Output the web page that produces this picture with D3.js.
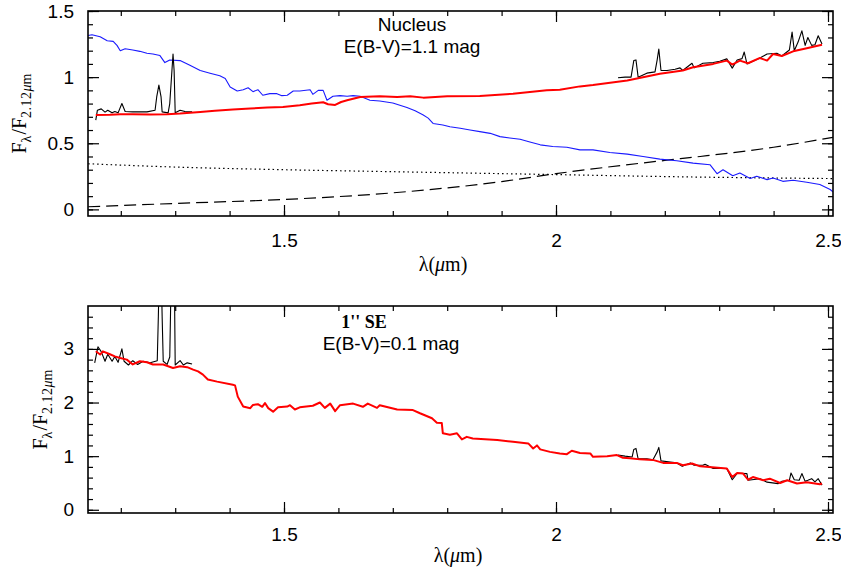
<!DOCTYPE html>
<html lang="en">
<head>
  <meta charset="UTF-8">
  <title>Nucleus and 1'' SE spectra</title>
  <script src="https://d3js.org/d3.v7.min.js"></script>
  <style>
    body { margin: 0; background: #fff; }
    .tick text { font-family: "Liberation Sans", Arial, sans-serif; font-size: 19px; fill: #000; }
    .tick line { stroke: #000; stroke-width: 1.2; }
  </style>
</head>
<body>
<div id="chart"></div>
<script>
// ---- data: [wavelength (micron), F_lambda / F_2.12um] ----

// Nucleus, observed spectrum (black), two pieces
var nucObsJ = [[1.154,0.675],[1.157,0.75],[1.164,0.76],[1.171,0.735],[1.176,0.75],[1.184,0.73],[1.189,0.74],
  [1.195,0.73],[1.202,0.80],[1.208,0.74],[1.222,0.737],[1.248,0.737],[1.263,0.75],[1.266,0.85],[1.270,0.94],
  [1.274,0.85],[1.276,0.737],[1.287,0.73],[1.290,0.80],[1.294,1.05],[1.296,1.175],[1.298,1.05],[1.300,0.73],
  [1.309,0.75],[1.318,0.74],[1.331,0.737]];
var nucObsK = [[2.114,0.995],[2.127,1.0],[2.138,1.0],[2.143,1.125],[2.147,1.13],[2.151,1.0],[2.167,1.03],
  [2.182,1.04],[2.186,1.13],[2.189,1.213],[2.193,1.05],[2.204,1.05],[2.219,1.06],[2.228,1.07],[2.233,1.05],
  [2.250,1.105],[2.254,1.07],[2.270,1.105],[2.289,1.11],[2.301,1.12],[2.314,1.138],[2.324,1.068],[2.333,1.13],
  [2.342,1.14],[2.346,1.19],[2.351,1.10],[2.362,1.12],[2.375,1.145],[2.388,1.175],[2.406,1.18],[2.415,1.16],
  [2.429,1.205],[2.434,1.34],[2.438,1.20],[2.445,1.265],[2.452,1.35],[2.458,1.24],[2.463,1.30],[2.470,1.24],
  [2.476,1.245],[2.482,1.313],[2.489,1.25]];

// Nucleus, model fit (red)
var nucFit = [[1.154,0.713],[1.180,0.715],[1.199,0.72],[1.222,0.72],[1.254,0.718],[1.285,0.72],[1.309,0.725],
  [1.346,0.737],[1.373,0.745],[1.406,0.755],[1.438,0.762],[1.469,0.77],[1.498,0.775],[1.529,0.788],[1.551,0.80],
  [1.572,0.81],[1.581,0.795],[1.594,0.79],[1.605,0.812],[1.616,0.825],[1.640,0.85],[1.676,0.855],[1.708,0.85],
  [1.732,0.855],[1.756,0.845],[1.800,0.855],[1.860,0.857],[1.921,0.875],[1.983,0.90],[2.007,0.905],[2.044,0.93],
  [2.068,0.94],[2.131,0.975],[2.191,1.025],[2.233,1.05],[2.252,1.075],[2.289,1.10],[2.314,1.125],[2.324,1.095],
  [2.338,1.125],[2.353,1.105],[2.375,1.145],[2.388,1.125],[2.399,1.175],[2.415,1.16],[2.436,1.195],[2.461,1.218],
  [2.489,1.245]];

// Nucleus, stellar template (blue)
var nucStar = [[1.140,1.315],[1.147,1.32],[1.162,1.305],[1.175,1.275],[1.186,1.27],[1.193,1.24],[1.199,1.20],
  [1.208,1.215],[1.222,1.205],[1.235,1.195],[1.248,1.18],[1.259,1.175],[1.272,1.163],[1.281,1.11],[1.290,1.13],
  [1.309,1.125],[1.327,1.09],[1.346,1.05],[1.364,1.03],[1.382,1.01],[1.392,0.99],[1.401,0.925],[1.414,0.895],
  [1.425,0.905],[1.434,0.92],[1.443,0.89],[1.452,0.905],[1.461,0.863],[1.474,0.875],[1.487,0.875],[1.496,0.86],
  [1.506,0.863],[1.517,0.895],[1.529,0.895],[1.548,0.905],[1.553,0.87],[1.563,0.90],[1.572,0.90],[1.579,0.825],
  [1.590,0.855],[1.603,0.86],[1.616,0.855],[1.627,0.86],[1.640,0.855],[1.658,0.825],[1.676,0.82],[1.700,0.805],
  [1.726,0.77],[1.741,0.745],[1.756,0.713],[1.765,0.69],[1.774,0.65],[1.792,0.638],[1.805,0.625],[1.824,0.613],
  [1.842,0.60],[1.860,0.588],[1.879,0.575],[1.897,0.55],[1.915,0.54],[1.934,0.53],[1.952,0.51],[1.971,0.488],
  [1.994,0.475],[2.020,0.47],[2.044,0.45],[2.068,0.45],[2.099,0.43],[2.131,0.418],[2.160,0.40],[2.191,0.38],
  [2.222,0.368],[2.252,0.35],[2.283,0.338],[2.296,0.27],[2.307,0.30],[2.325,0.255],[2.338,0.275],[2.357,0.233],
  [2.369,0.25],[2.388,0.225],[2.399,0.238],[2.417,0.212],[2.436,0.22],[2.461,0.205],[2.485,0.188],[2.504,0.15],
  [2.509,0.133]];

// Nucleus, power law (dotted) and hot dust (dashed)
var nucPowerLaw = [[1.140,0.345],[1.30,0.32],[1.50,0.30],[1.70,0.285],[2.00,0.263],[2.25,0.245],[2.509,0.233]];
var nucDust = [[1.140,0.02],[1.30,0.045],[1.50,0.075],[1.70,0.125],[1.90,0.21],[2.00,0.27],[2.20,0.37],
  [2.265,0.40],[2.40,0.47],[2.509,0.545]];

// 1'' SE, observed (black)
var seObsJ = [[1.152,2.74],[1.158,3.04],[1.164,2.95],[1.171,2.77],[1.176,2.90],[1.184,2.77],[1.189,2.86],
  [1.195,2.75],[1.202,3.0],[1.206,2.77],[1.214,2.70],[1.222,2.78],[1.231,2.71],[1.241,2.77],[1.254,2.74],
  [1.267,2.78],[1.269,3.6],[1.271,4.6],[1.274,4.6],[1.276,3.6],[1.278,2.77],[1.285,2.71],[1.290,2.85],
  [1.293,4.6],[1.298,4.8],[1.300,2.7],[1.309,2.78],[1.315,2.70],[1.322,2.74],[1.331,2.72]];
var seObsK = [[2.114,1.02],[2.127,1.00],[2.140,0.985],[2.143,1.126],[2.147,1.144],[2.151,0.95],[2.167,0.95],
  [2.178,0.93],[2.186,1.08],[2.189,1.163],[2.193,0.912],[2.210,0.89],[2.222,0.874],[2.232,0.81],[2.247,0.874],
  [2.254,0.83],[2.270,0.83],[2.274,0.85],[2.289,0.77],[2.314,0.77],[2.324,0.56],[2.333,0.68],[2.351,0.675],
  [2.353,0.55],[2.375,0.58],[2.388,0.515],[2.408,0.487],[2.415,0.53],[2.429,0.55],[2.432,0.687],[2.438,0.56],
  [2.447,0.55],[2.452,0.675],[2.458,0.53],[2.463,0.55],[2.470,0.58],[2.476,0.52],[2.482,0.58],[2.489,0.46]];

// 1'' SE, model fit (red)
var seFit = [[1.154,2.955],[1.162,2.895],[1.167,2.955],[1.180,2.90],[1.189,2.86],[1.199,2.83],[1.211,2.80],
  [1.222,2.71],[1.235,2.77],[1.248,2.75],[1.259,2.71],[1.278,2.71],[1.296,2.645],[1.309,2.675],[1.322,2.66],
  [1.333,2.613],[1.342,2.58],[1.351,2.52],[1.360,2.43],[1.377,2.39],[1.406,2.33],[1.410,2.32],[1.415,2.11],
  [1.425,1.925],[1.438,1.895],[1.443,1.956],[1.452,1.97],[1.460,1.92],[1.465,1.99],[1.471,1.895],[1.480,1.83],
  [1.489,1.91],[1.506,1.925],[1.511,1.95],[1.520,1.87],[1.529,1.91],[1.553,1.94],[1.566,2.0],[1.575,1.90],
  [1.585,1.98],[1.594,1.84],[1.603,1.95],[1.627,1.98],[1.645,1.92],[1.654,1.98],[1.671,1.90],[1.676,1.95],
  [1.708,1.87],[1.737,1.86],[1.750,1.80],[1.772,1.707],[1.781,1.625],[1.790,1.62],[1.792,1.426],[1.805,1.40],
  [1.818,1.426],[1.827,1.313],[1.836,1.36],[1.847,1.33],[1.892,1.30],[1.921,1.268],[1.949,1.238],[1.958,1.144],
  [1.965,1.20],[1.971,1.126],[1.989,1.08],[2.007,1.05],[2.020,1.037],[2.029,1.10],[2.044,1.06],[2.063,1.05],
  [2.068,0.987],[2.094,1.0],[2.112,1.02],[2.123,0.97],[2.136,0.96],[2.154,0.94],[2.178,0.93],[2.197,0.874],
  [2.222,0.874],[2.233,0.83],[2.250,0.863],[2.265,0.81],[2.314,0.77],[2.324,0.61],[2.333,0.687],[2.344,0.675],
  [2.353,0.56],[2.362,0.61],[2.381,0.55],[2.393,0.58],[2.412,0.50],[2.425,0.55],[2.443,0.49],[2.461,0.515],
  [2.485,0.475],[2.489,0.49]];

// axis ticks
var xMajor = [1.5, 2, 2.5];
var xMinor = d3.range(12, 26).map(function (d) { return d / 10; });
var nucYMajor = [0, 0.5, 1, 1.5];
var nucYMinor = d3.range(0, 16).map(function (d) { return d / 10; });
var seYMajor = [0, 1, 2, 3];
var seYMinor = d3.range(0, 19).map(function (d) { return d / 5; });

var svg = d3.select("#chart").append("svg")
  .attr("width", 841).attr("height", 576);

var x = d3.scaleLinear().domain([1.1397, 2.5092]).range([88, 833]);

var serif = "'Liberation Serif', 'Times New Roman', serif";
var sans = "'Liberation Sans', Arial, sans-serif";

function panel(id, top, bottom, yDomain, yMajor, yMinor, labelX, titleX, titleY) {
  var y = d3.scaleLinear().domain(yDomain).range([bottom, top]);
  var g = svg.append("g");

  svg.append("clipPath").attr("id", id)
    .append("rect").attr("x", 88).attr("y", top).attr("width", 745).attr("height", bottom - top);

  var plot = g.append("g").attr("clip-path", "url(#" + id + ")");

  // ticks, pointing inward on all four sides
  var axes = [
    [d3.axisBottom(x).tickValues(xMinor).tickSize(-5).tickFormat(""), "translate(0," + bottom + ")"],
    [d3.axisTop(x).tickValues(xMinor).tickSize(-5).tickFormat(""), "translate(0," + top + ")"],
    [d3.axisTop(x).tickValues(xMajor).tickSize(-11).tickFormat(""), "translate(0," + top + ")"],
    [d3.axisLeft(y).tickValues(yMinor).tickSize(-5).tickFormat(""), "translate(88,0)"],
    [d3.axisRight(y).tickValues(yMinor).tickSize(-5).tickFormat(""), "translate(833,0)"],
    [d3.axisRight(y).tickValues(yMajor).tickSize(-11).tickFormat(""), "translate(833,0)"],
    [d3.axisBottom(x).tickValues(xMajor).tickSize(-11).tickPadding(bottom > 300 ? 15 : 18)
      .tickFormat(d3.format("")), "translate(0," + bottom + ")"],
    [d3.axisLeft(y).tickValues(yMajor).tickSize(-11).tickPadding(14).tickFormat(d3.format("")), "translate(88,0)"]
  ];
  axes.forEach(function (a) {
    var ax = g.append("g").attr("transform", a[1]).call(a[0]);
    ax.select(".domain").remove();
  });

  g.append("rect")
    .attr("x", 88).attr("y", top).attr("width", 745).attr("height", bottom - top)
    .attr("fill", "none").attr("stroke", "#000").attr("stroke-width", 1.6);

  // y label  F_lambda / F_2.12um
  var yl = g.append("text")
    .attr("transform", "translate(" + labelX + "," + (top + bottom) / 2 + ") rotate(-90)")
    .attr("text-anchor", "middle")
    .style("font-family", serif)
    .style("font-size", "20px");
  yl.append("tspan").text("F");
  yl.append("tspan").attr("dy", 5).style("font-size", "14px").text("λ");
  yl.append("tspan").attr("dy", -5).attr("dx", 1).text("/F");
  yl.append("tspan").attr("dy", 5).style("font-size", "14px").style("letter-spacing", "0.5px").text("2.12");
  yl.append("tspan").style("font-size", "14px").style("font-style", "italic").text("μ");
  yl.append("tspan").style("font-size", "14px").text("m");

  // x label
  var xl = g.append("text")
    .attr("x", titleX).attr("y", titleY)
    .attr("text-anchor", "middle")
    .style("font-family", serif)
    .style("font-size", "20px");
  xl.append("tspan").text("λ(");
  xl.append("tspan").style("font-style", "italic").text("μ");
  xl.append("tspan").text("m)");

  return { y: y, plot: plot, g: g };
}

function draw(p, data, color, width, dash, curve) {
  var line = d3.line()
    .x(function (d) { return x(d[0]); })
    .y(function (d) { return p.y(d[1]); })
    .curve(curve || d3.curveLinear);
  p.plot.append("path")
    .datum(data)
    .attr("d", line)
    .attr("fill", "none")
    .attr("stroke", color)
    .attr("stroke-width", width)
    .attr("stroke-linejoin", "round")
    .attr("stroke-dasharray", dash || null);
}

// ---- top panel: nucleus ----
var nuc = panel("clipNuc", 11, 216, [-0.05, 1.5], nucYMajor, nucYMinor, 26, 443, 271);
draw(nuc, nucPowerLaw, "#000", 1.2, "1.5,3", d3.curveMonotoneX);
draw(nuc, nucDust, "#000", 1.2, "12,6", d3.curveMonotoneX);
draw(nuc, nucStar, "#1a1aff", 1.1);
draw(nuc, nucObsJ, "#000", 1.1);
draw(nuc, nucObsK, "#000", 1.1);
draw(nuc, nucFit, "#ff0000", 2);

nuc.g.append("text").attr("x", 412).attr("y", 31).attr("text-anchor", "middle")
  .style("font-family", sans).style("font-size", "19px").text("Nucleus");
nuc.g.append("text").attr("x", 412).attr("y", 53).attr("text-anchor", "middle")
  .style("font-family", sans).style("font-size", "19px").text("E(B-V)=1.1 mag");

// ---- bottom panel: 1'' SE ----
var se = panel("clipSE", 306, 513, [-0.06, 3.8], seYMajor, seYMinor, 47, 458, 562);
draw(se, seObsJ, "#000", 1.1);
draw(se, seObsK, "#000", 1.1);
draw(se, seFit, "#ff0000", 2);

se.g.append("text").attr("x", 364).attr("y", 328).attr("text-anchor", "middle")
  .style("font-family", serif).style("font-size", "18px")
  .style("font-weight", "bold").text("1'' SE");
se.g.append("text").attr("x", 391).attr("y", 350).attr("text-anchor", "middle")
  .style("font-family", sans).style("font-size", "19px").text("E(B-V)=0.1 mag");
</script>
</body>
</html>
